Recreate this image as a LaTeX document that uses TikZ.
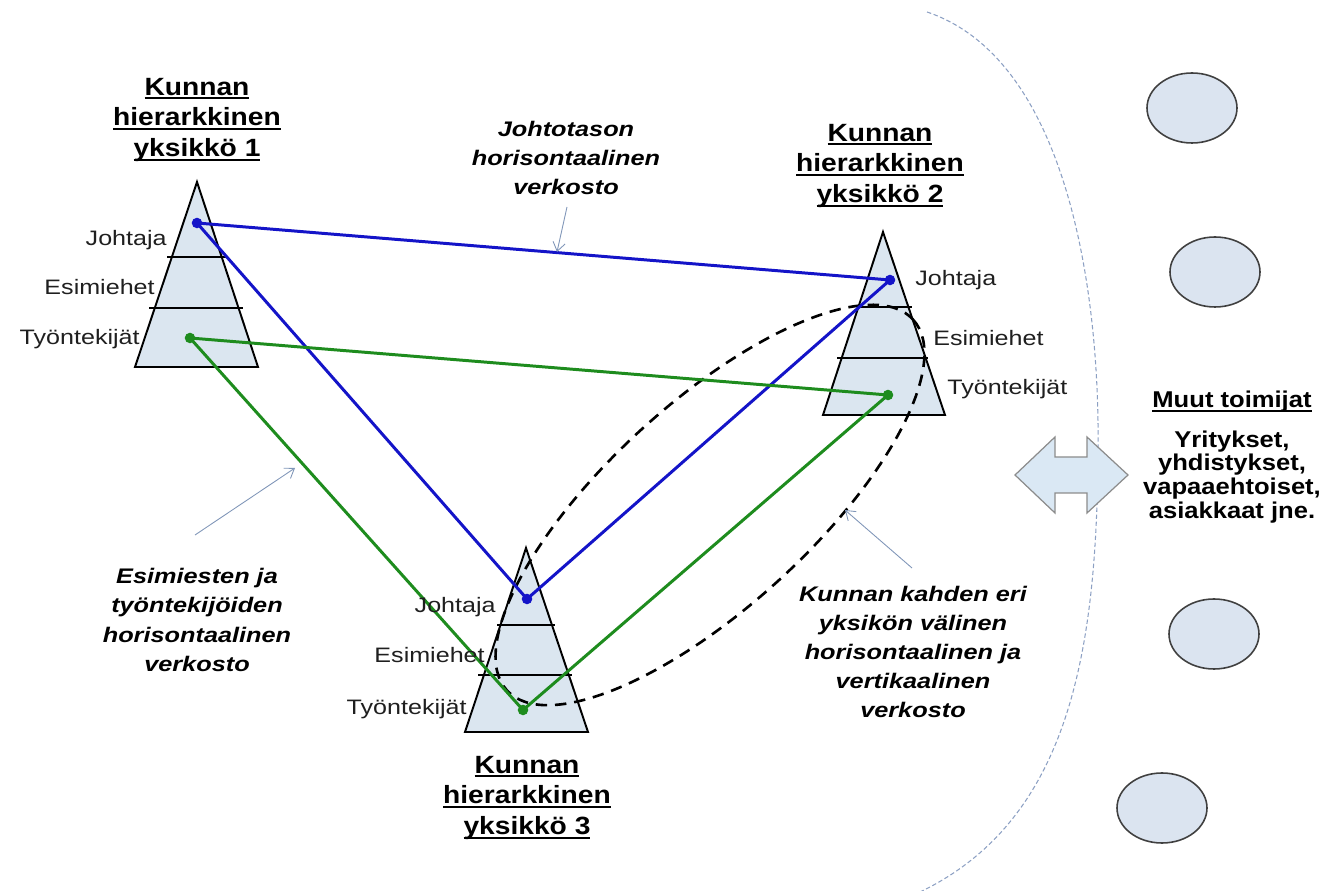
\documentclass[tikz,border=0pt]{standalone}
\usepackage{fontspec}
\setmainfont{Liberation Sans}
\newfontfamily\lblfont[FakeStretch=1.2]{Liberation Sans}
\newfontfamily\ttlfont[FakeStretch=1.13]{Liberation Sans}
\newfontfamily\muutfont[FakeStretch=1.12]{Liberation Sans}
\newcommand\ulx[1]{\setbox0\hbox{#1}\rlap{\rule[-2.2pt]{\wd0}{1.2pt}}\box0}
\usetikzlibrary{arrows.meta}
\definecolor{pyrfill}{RGB}{219,230,240}
\definecolor{netblue}{RGB}{20,20,200}
\definecolor{netgreen}{RGB}{30,140,30}
\definecolor{callgray}{RGB}{128,150,184}
\definecolor{arcgray}{RGB}{140,160,195}
\definecolor{ovfill}{RGB}{219,228,240}
\definecolor{arrfill}{RGB}{218,232,244}
\tikzset{
  pyr/.style={draw=black, line width=1.1pt, fill=pyrfill, line join=miter},
  lvl/.style={draw=black, line width=1.1pt},
  bdot/.style={circle, fill=netblue, inner sep=0pt, minimum size=6pt},
  gdot/.style={circle, fill=netgreen, inner sep=0pt, minimum size=6pt},
  bline/.style={draw=netblue, line width=1.7pt},
  gline/.style={draw=netgreen, line width=1.7pt},
  netdash/.style={draw=black, line width=1.5pt, dash pattern=on 6.5pt off 4.5pt},
  arcdash/.style={draw=arcgray, line width=0.6pt, dash pattern=on 2.5pt off 1.5pt},
  callout/.style={draw=callgray, line width=0.5pt, -{Straight Barb[length=5pt,width=7pt]}},
  ttl/.style={align=center, inner sep=0pt, font=\ttlfont\bfseries\fontsize{14.2}{17.6}\selectfont},
  lbl/.style={inner sep=0pt, text=black!88, font=\lblfont\fontsize{11.9}{14}\selectfont},
  itl/.style={align=center, inner sep=0pt, font=\lblfont\bfseries\itshape\fontsize{12}{16.6}\selectfont},
  oval/.style={draw=black!75, line width=0.9pt, fill=ovfill},
  dblarr/.style={draw=black!45, line width=0.7pt, fill=arrfill},
  muut/.style={align=center, inner sep=0pt, font=\muutfont\bfseries\fontsize{13}{13.6}\selectfont}
}
\begin{document}
\begin{tikzpicture}[x=0.02cm, y=-0.02cm]
\useasboundingbox (0,0) rectangle (1323,891);

% big dashed arc
\draw[arcdash] (927,12) .. controls (1070,60) and (1100,300) .. (1098,450)
  .. controls (1097,650) and (1070,820) .. (920,892);

% pyramids
\draw[pyr] (197,182) -- (258,367) -- (135,367) -- cycle;
\draw[lvl] (167,257) -- (226,257);
\draw[lvl] (149,308) -- (243,308);

\draw[pyr] (883,232) -- (945,415) -- (823,415) -- cycle;
\draw[lvl] (857,307) -- (912,307);
\draw[lvl] (837,358) -- (928,358);

\draw[pyr] (526,548) -- (588,732) -- (465,732) -- cycle;
\draw[lvl] (497,625) -- (555,625);
\draw[lvl] (478,675) -- (572,675);

% dashed ellipse
\draw[netdash, rotate around={42.4:(710,505)}] (710,505) ellipse [x radius=275, y radius=102];

% dots
\node[bdot] (j1) at (197,223) {};
\node[gdot] (t1) at (190,338) {};
\node[bdot] (j2) at (890,280) {};
\node[gdot] (t2) at (888,395) {};
\node[bdot] (j3) at (527,599) {};
\node[gdot] (t3) at (523,710) {};

% network lines
\draw[bline] (j1.center) -- (j2.center);
\draw[bline] (j1.center) -- (j3.center);
\draw[bline] (j3.center) -- (j2.center);
\draw[gline] (t1.center) -- (t2.center);
\draw[gline] (t1.center) -- (t3.center);
\draw[gline] (t3.center) -- (t2.center);

% titles
\node[ttl] (ttl1) at (197,120) {\ulx{Kunnan}\\\ulx{hierarkkinen}\\\ulx{yksikkö 1}};
\node[ttl] (ttl2) at (880,166) {\ulx{Kunnan}\\\ulx{hierarkkinen}\\\ulx{yksikkö 2}};
\node[ttl] (ttl3) at (527,798) {\ulx{Kunnan}\\\ulx{hierarkkinen}\\\ulx{yksikkö 3}};

% pyramid level labels
\node[lbl, anchor=base east] (l1a) at (167,246) {Johtaja};
\node[lbl, anchor=base east] (l1b) at (155,295) {Esimiehet};
\node[lbl, anchor=base east] (l1c) at (140,345) {Työntekijät};
\node[lbl, anchor=base west] (l2a) at (915,286) {Johtaja};
\node[lbl, anchor=base west] (l2b) at (933,346) {Esimiehet};
\node[lbl, anchor=base west] (l2c) at (947,395) {Työntekijät};
\node[lbl, anchor=base east] (l3a) at (496,613) {Johtaja};
\node[lbl, anchor=base east] (l3b) at (485,663) {Esimiehet};
\node[lbl, anchor=base east] (l3c) at (467,715) {Työntekijät};

% italic labels
\node[itl] (it1) at (566,158) {Johtotason\\horisontaalinen\\verkosto};
\node[itl] (it2) at (197,620) {Esimiesten ja\\työntekijöiden\\horisontaalinen\\verkosto};
\node[itl] (it3) at (913,652) {Kunnan kahden eri\\yksikön välinen\\horisontaalinen ja\\vertikaalinen\\verkosto};

% callouts
\coordinate (a1s) at (567,207); \coordinate (a1e) at (557,252);
\coordinate (a2s) at (195,535); \coordinate (a2e) at (295,468);
\coordinate (a3s) at (912,568); \coordinate (a3e) at (845,510);
\draw[callout] (a1s) -- (a1e);
\draw[callout] (a2s) -- (a2e);
\draw[callout] (a3s) -- (a3e);

% double arrow
\draw[dblarr] (1015,475) -- (1055,437) -- (1055,457) -- (1087,457) -- (1087,437)
  -- (1128,475) -- (1087,513) -- (1087,493) -- (1055,493) -- (1055,513) -- cycle;

% other actors
\draw[oval] (1192,108) ellipse [x radius=45, y radius=35];
\draw[oval] (1215,272) ellipse [x radius=45, y radius=35];
\draw[oval] (1214,634) ellipse [x radius=45, y radius=35];
\draw[oval] (1162,808) ellipse [x radius=45, y radius=35];

\node[muut] (mt) at (1232,402) {\ulx{Muut toimijat}};
\node[muut] (mb) at (1232,477) {Yritykset,\\yhdistykset,\\vapaaehtoiset,\\asiakkaat jne.};
\end{tikzpicture}
\end{document}
